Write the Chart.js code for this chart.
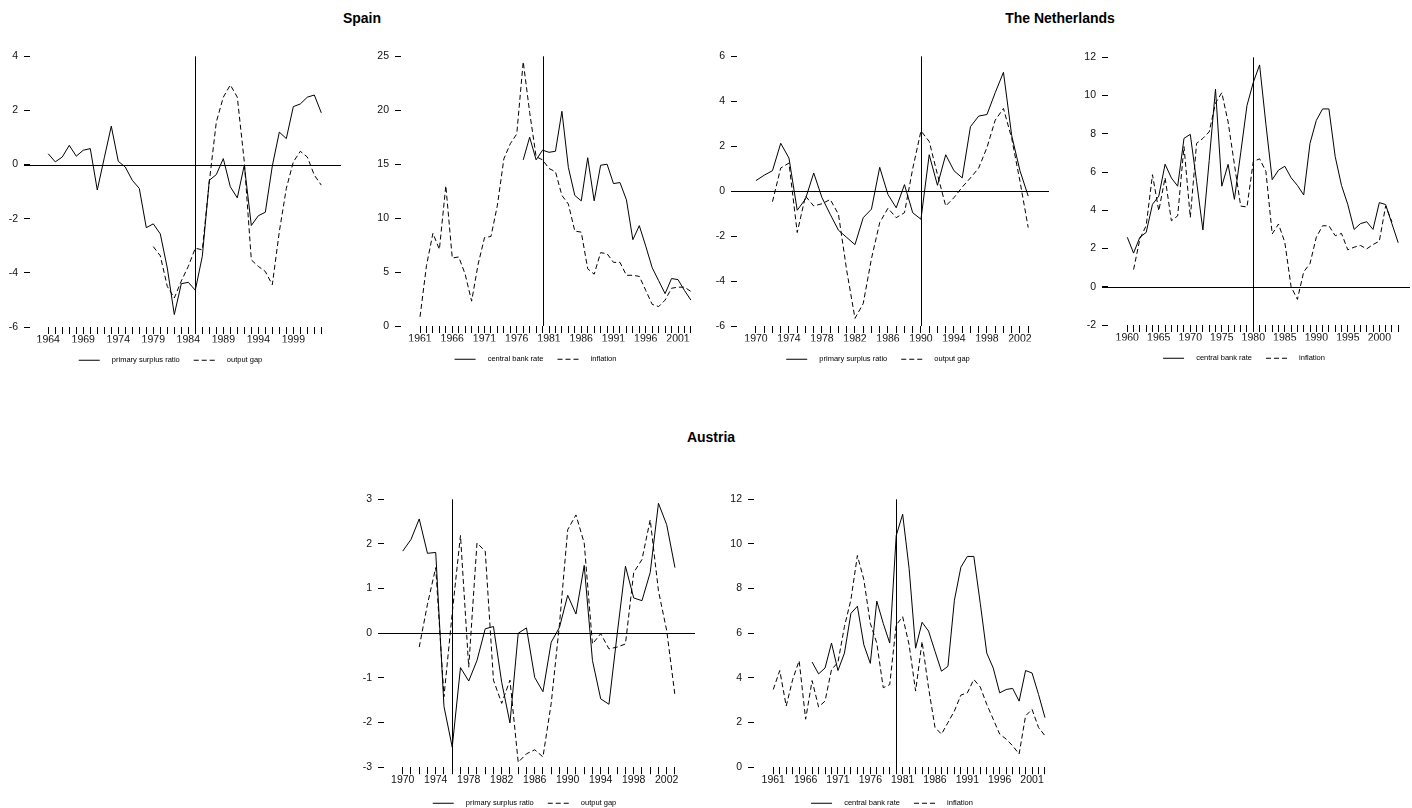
<!DOCTYPE html>
<html>
<head>
<meta charset="utf-8">
<title>Spain, The Netherlands, Austria</title>
<script src="https://cdn.jsdelivr.net/npm/chart.js@4.4.1/dist/chart.umd.min.js"></script>
<style>
  html, body { margin: 0; padding: 0; background: #fff; overflow: hidden; }
  body { width: 1412px; height: 808px; position: relative; font-family: "Liberation Sans", Arial, sans-serif; }
  .title { position: absolute; font-weight: bold; font-size: 14px; color: #000; transform: translateX(-50%); white-space: nowrap; }
  .panel { position: absolute; }
</style>
</head>
<body>
<div class="title" style="left:362px; top:10px">Spain</div>
<div class="title" style="left:1060px; top:10px">The Netherlands</div>
<div class="title" style="left:711px; top:429px">Austria</div>

<div class="panel" id="p-es-fiscal"><canvas id="c-es-fiscal"></canvas></div>
<div class="panel" id="p-es-money"><canvas id="c-es-money"></canvas></div>
<div class="panel" id="p-nl-fiscal"><canvas id="c-nl-fiscal"></canvas></div>
<div class="panel" id="p-nl-money"><canvas id="c-nl-money"></canvas></div>
<div class="panel" id="p-at-fiscal"><canvas id="c-at-fiscal"></canvas></div>
<div class="panel" id="p-at-money"><canvas id="c-at-money"></canvas></div>

<script>
// ---- Spain ----
const esSurplusStart = 1964;
const esSurplus = [0.40, 0.10, 0.28, 0.71, 0.31, 0.53, 0.59, -0.94, 0.25, 1.42,
  0.12, -0.09, -0.58, -0.88, -2.33, -2.19, -2.56, -3.82, -5.54, -4.40,
  -4.35, -4.64, -3.39, -0.58, -0.37, 0.22, -0.82, -1.23, -0.02, -2.25,
  -1.89, -1.76, -0.05, 1.20, 0.96, 2.14, 2.24, 2.49, 2.57, 1.91];
const esGapStart = 1979;
const esGap = [-3.03, -3.37, -4.50, -4.93, -4.30, -3.76, -3.09, -3.15, -0.64, 1.57,
  2.49, 2.94, 2.49, 0.10, -3.52, -3.76, -3.95, -4.44, -2.48, -0.88,
  0.10, 0.49, 0.28, -0.39, -0.76];
const esRateStart = 1977;
const esRate = [15.4, 17.5, 15.4, 16.3, 16.1, 16.2, 19.9, 14.7, 12.1, 11.6,
  15.6, 11.6, 14.9, 15.0, 13.2, 13.3, 11.7, 8.0, 9.3, 7.4,
  5.4, 4.2, 3.0, 4.4, 4.3, 3.3, 2.4];
const esInflStart = 1961;
const esInfl = [0.85, 5.6, 8.6, 7.1, 13.0, 6.3, 6.4, 4.8, 2.3, 5.7,
  8.2, 8.3, 11.2, 15.5, 16.9, 17.8, 24.5, 19.8, 15.7, 15.4,
  14.6, 14.3, 12.1, 11.3, 8.8, 8.7, 5.3, 4.8, 6.8, 6.7,
  5.9, 5.9, 4.7, 4.7, 4.6, 3.3, 2.0, 1.8, 2.4, 3.5,
  3.6, 3.6, 3.2];

// ---- The Netherlands ----
const nlSurplusStart = 1970;
const nlSurplus = [0.47, 0.71, 0.91, 2.13, 1.47, -0.85, -0.35, 0.81, -0.29, -1.03,
  -1.74, -2.06, -2.38, -1.18, -0.80, 1.06, -0.15, -0.74, 0.29, -0.96,
  -1.25, 1.62, 0.26, 1.62, 0.91, 0.59, 2.87, 3.34, 3.41, 4.38,
  5.29, 2.47, 0.91, -0.22];
const nlGapStart = 1972;
const nlGap = [-0.47, 1.03, 1.25, -1.84, -0.22, -0.66, -0.56, -0.37, -1.03, -3.53,
  -5.66, -5.00, -3.00, -1.40, -0.76, -1.18, -0.96, 1.00, 2.68, 2.21,
  0.74, -0.66, -0.29, 0.18, 0.59, 1.03, 1.94, 3.16, 3.68, 2.35,
  0.44, -1.62];
const nlRateStart = 1960;
const nlRate = [2.59, 1.76, 2.59, 2.84, 4.31, 4.74, 6.41, 5.69, 5.26, 7.76,
  7.97, 5.5, 2.97, 6.6, 10.34, 5.26, 6.4, 4.57, 7.0, 9.48,
  10.69, 11.6, 8.5, 5.6, 6.1, 6.3, 5.7, 5.3, 4.8, 7.5,
  8.7, 9.3, 9.3, 6.8, 5.3, 4.3, 3.0, 3.3, 3.4, 3.0,
  4.4, 4.3, 3.3, 2.3];
const nlInflStart = 1961;
const nlInfl = [0.90, 2.5, 3.2, 5.86, 3.97, 5.7, 3.45, 3.71, 7.33, 3.62,
  7.5, 7.76, 8.1, 9.6, 10.15, 8.62, 6.4, 4.22, 4.17, 6.55,
  6.69, 6.03, 2.76, 3.28, 2.33, 0.0, -0.66, 0.78, 1.21, 2.59,
  3.19, 3.19, 2.67, 2.79, 1.93, 2.07, 2.16, 1.98, 2.21, 2.38,
  4.22, 3.4];

// ---- Austria ----
const atSurplusStart = 1970;
const atSurplus = [1.84, 2.10, 2.56, 1.79, 1.81, -1.64, -2.55, -0.77, -1.07, -0.61,
  0.10, 0.15, -1.10, -2.01, 0.00, 0.12, -0.99, -1.31, -0.20, 0.13,
  0.85, 0.43, 1.52, -0.61, -1.47, -1.59, -0.01, 1.50, 0.79, 0.73,
  1.36, 2.91, 2.43, 1.47];
const atGapStart = 1972;
const atGap = [-0.31, 0.65, 1.47, -1.42, 0.45, 2.19, -0.76, 2.02, 1.84, -1.05,
  -1.57, -1.05, -2.89, -2.70, -2.61, -2.77, -1.57, 0.20, 2.32, 2.65,
  2.02, -0.24, -0.01, -0.35, -0.31, -0.24, 1.36, 1.65, 2.54, 0.95,
  0.06, -1.39];
const atRateStart = 1967;
const atRate = [4.71, 4.18, 4.44, 5.56, 4.33, 5.11, 6.89, 7.21, 5.48, 4.65,
  7.44, 6.44, 5.56, 10.37, 11.33, 8.89, 5.33, 6.49, 6.10, 5.19,
  4.30, 4.52, 7.48, 8.96, 9.44, 9.44, 7.33, 5.11, 4.44, 3.33,
  3.48, 3.53, 2.96, 4.33, 4.22, 3.26, 2.22];
const atInflStart = 1961;
const atInfl = [3.48, 4.33, 2.74, 3.93, 4.77, 2.15, 3.88, 2.70, 2.96, 4.37,
  4.7, 6.3, 7.5, 9.48, 8.4, 6.44, 5.56, 3.56, 3.70, 6.37,
  6.74, 5.48, 3.41, 5.63, 3.56, 1.78, 1.48, 2.00, 2.52, 3.23,
  3.33, 3.93, 3.59, 2.81, 2.15, 1.48, 1.26, 0.96, 0.59, 2.30,
  2.59, 1.78, 1.41];

// tick labels shown under the yearly tick marks
const esFiscalLabels = [1964, 1969, 1974, 1979, 1984, 1989, 1994, 1999];
const esMoneyLabels = [1961, 1966, 1971, 1976, 1981, 1986, 1991, 1996, 2001];
const nlFiscalLabels = [1970, 1974, 1978, 1982, 1986, 1990, 1994, 1998, 2002];
const nlMoneyLabels = [1960, 1965, 1970, 1975, 1980, 1985, 1990, 1995, 2000];
const atFiscalLabels = [1970, 1974, 1978, 1982, 1986, 1990, 1994, 1998, 2002];
const atMoneyLabels = [1961, 1966, 1971, 1976, 1981, 1986, 1991, 1996, 2001];

const LABEL_SURPLUS = 'primary surplus ratio';
const LABEL_GAP = 'output gap';
const LABEL_RATE = 'central bank rate';
const LABEL_INFL = 'inflation';

Chart.defaults.font.family = '"Liberation Sans", Arial, sans-serif';
Chart.defaults.color = '#000';

// zero line and regime-break line, placed through the chart scales
const refLines = {
  id: 'refLines',
  afterDatasetsDraw(chart, args, opts) {
    const { ctx, chartArea: area, scales: { x, y } } = chart;
    ctx.save();
    ctx.strokeStyle = '#000';
    ctx.lineWidth = 1;
    ctx.beginPath();
    if (opts.zero) {
      const py = Math.round(y.getPixelForValue(0)) + 0.5;
      ctx.moveTo(area.left - 6, py);
      ctx.lineTo(area.right, py);
    }
    if (opts.breakYear) {
      const px = Math.round(x.getPixelForValue(opts.breakYear)) + 0.5;
      ctx.moveTo(px, area.top);
      ctx.lineTo(px, area.bottom);
    }
    ctx.stroke();
    ctx.restore();
  }
};

const panels = [
  {
    id: 'es-fiscal', box: { left: 0, top: 44, width: 341, height: 330 },
    xRange: [1961.39, 2005.81], years: [1964, 2003], labels: esFiscalLabels,
    yRange: [-6, 4], yStep: 2, zero: true, breakYear: 1985, axisH: 15.5,
    series: [
      { label: LABEL_SURPLUS, start: esSurplusStart, values: esSurplus },
      { label: LABEL_GAP, start: esGapStart, values: esGap, dashed: true }
    ]
  },
  {
    id: 'es-money', box: { left: 371, top: 44, width: 329, height: 329 },
    xRange: [1958.05, 2004.41], years: [1961, 2003], labels: esMoneyLabels,
    yRange: [0, 25], yStep: 5, zero: false, breakYear: 1980, axisH: 15.5,
    series: [
      { label: LABEL_RATE, start: esRateStart, values: esRate },
      { label: LABEL_INFL, start: esInflStart, values: esInfl, dashed: true }
    ]
  },
  {
    id: 'nl-fiscal', box: { left: 707, top: 44, width: 342, height: 329 },
    xRange: [1967.7, 2005.52], years: [1970, 2003], labels: nlFiscalLabels,
    yRange: [-6, 6], yStep: 2, zero: true, breakYear: 1990, axisH: 15.5,
    series: [
      { label: LABEL_SURPLUS, start: nlSurplusStart, values: nlSurplus },
      { label: LABEL_GAP, start: nlGapStart, values: nlGap, dashed: true }
    ]
  },
  {
    id: 'nl-money', box: { left: 1078, top: 45, width: 332, height: 327 },
    xRange: [1956.94, 2004.87], years: [1960, 2003], labels: nlMoneyLabels,
    yRange: [-2, 12], yStep: 2, zero: true, breakYear: 1980, axisH: 15.5,
    series: [
      { label: LABEL_RATE, start: nlRateStart, values: nlRate },
      { label: LABEL_INFL, start: nlInflStart, values: nlInfl, dashed: true }
    ]
  },
  {
    id: 'at-fiscal', box: { left: 354, top: 487, width: 341, height: 330 },
    xRange: [1967.73, 2005.43], years: [1970, 2003], labels: atFiscalLabels,
    yRange: [-3, 3], yStep: 1, zero: true, breakYear: 1976, axisH: 18.3,
    series: [
      { label: LABEL_SURPLUS, start: atSurplusStart, values: atSurplus },
      { label: LABEL_GAP, start: atGapStart, values: atGap, dashed: true }
    ]
  },
  {
    id: 'at-money', box: { left: 724, top: 487, width: 336, height: 330 },
    xRange: [1958.02, 2005.32], years: [1961, 2003], labels: atMoneyLabels,
    yRange: [0, 12], yStep: 2, zero: false, breakYear: 1980, axisH: 18.3,
    series: [
      { label: LABEL_RATE, start: atRateStart, values: atRate },
      { label: LABEL_INFL, start: atInflStart, values: atInfl, dashed: true }
    ]
  }
];

function buildPanel(p) {
  const wrap = document.getElementById('p-' + p.id);
  wrap.style.left = p.box.left + 'px';
  wrap.style.top = p.box.top + 'px';
  wrap.style.width = p.box.width + 'px';
  wrap.style.height = p.box.height + 'px';

  // one tick mark per year
  const tickYears = [];
  for (let yr = p.years[0]; yr <= p.years[1]; yr++) tickYears.push(yr);

  const datasets = p.series.map(s => ({
    label: s.label,
    data: s.values.map((v, i) => ({ x: s.start + i, y: v })),
    borderColor: '#000',
    borderWidth: 1,
    borderDash: s.dashed ? [5, 3] : [],
    pointRadius: 0,
    pointHoverRadius: 0,
    tension: 0,
    fill: false
  }));

  new Chart(document.getElementById('c-' + p.id), {
    type: 'line',
    data: { datasets },
    plugins: [refLines],
    options: {
      responsive: true,
      maintainAspectRatio: false,
      animation: false,
      events: [],
      layout: { padding: { top: 10, left: 0, right: 0, bottom: 0 } },
      scales: {
        x: {
          type: 'linear',
          min: p.xRange[0],
          max: p.xRange[1],
          afterBuildTicks: scale => { scale.ticks = tickYears.map(v => ({ value: v })); },
          afterFit: scale => { scale.height = p.axisH; },
          ticks: {
            autoSkip: false,
            maxRotation: 0,
            minRotation: 0,
            padding: 0,
            color: '#111',
            font: { size: 10.5 },
            callback: v => (p.labels.includes(v) ? String(v) : '')
          },
          grid: { drawOnChartArea: false, drawTicks: true, tickLength: 7, color: '#000', lineWidth: 1 },
          border: { display: false }
        },
        y: {
          type: 'linear',
          min: p.yRange[0],
          max: p.yRange[1],
          afterFit: scale => { scale.width = 30; },
          ticks: { stepSize: p.yStep, padding: 6, color: '#111', font: { size: 10.5 } },
          grid: { drawOnChartArea: false, drawTicks: true, tickLength: 6, color: '#000', lineWidth: 1 },
          border: { display: false }
        }
      },
      plugins: {
        refLines: { zero: p.zero, breakYear: p.breakYear },
        tooltip: { enabled: false },
        legend: {
          position: 'bottom',
          labels: {
            usePointStyle: true,
            pointStyleWidth: 21,
            boxHeight: 7.5,
            padding: 14,
            color: '#000',
            font: { size: 7.5 },
            generateLabels: chart => chart.data.datasets.map((ds, i) => ({
              text: '    ' + ds.label,
              fillStyle: 'rgba(0,0,0,0)',
              strokeStyle: '#000',
              lineWidth: 1,
              lineDash: ds.borderDash,
              pointStyle: 'line',
              hidden: false,
              datasetIndex: i
            }))
          }
        }
      }
    }
  });
}

document.addEventListener('DOMContentLoaded', () => {
  panels.forEach(buildPanel);
});
</script>
</body>
</html>
